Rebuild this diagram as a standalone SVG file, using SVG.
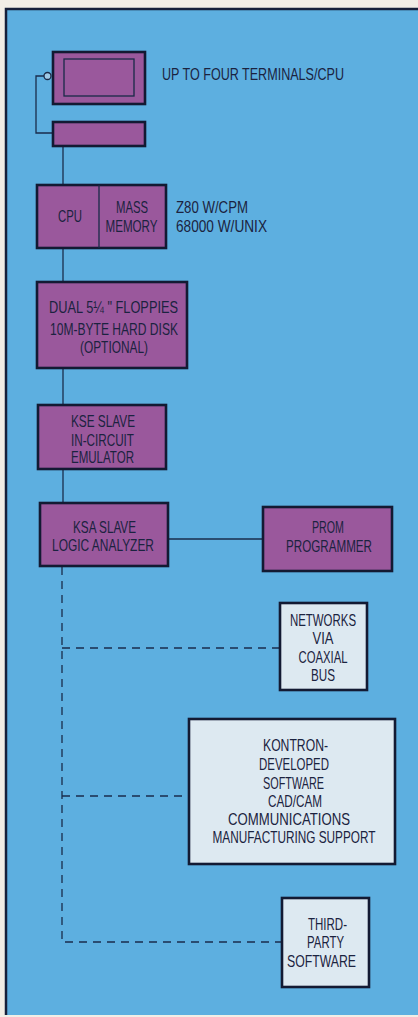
<svg xmlns="http://www.w3.org/2000/svg" width="418" height="1017" viewBox="0 0 418 1017">
  <style>
    .bg { fill: #5dafe0; }
    .frame { stroke: #15203a; stroke-width: 2.5; fill: none; }
    .box { fill: #9a589c; stroke: #131a33; stroke-width: 2.6; }
    .lite { fill: #dde9f1; stroke: #131a33; stroke-width: 2.6; }
    .thin { fill: none; stroke: #1a2a48; stroke-width: 1.3; }
    .wire { fill: none; stroke: #1a2d4c; stroke-width: 1.3; }
    .dash { fill: none; stroke: #1a2d4c; stroke-width: 1.3; stroke-dasharray: 8 6; }
    text { font-family: "Liberation Sans", Arial, sans-serif; font-size: 16.5px; fill: #1b2340; }
    .c { text-anchor: middle; }
  </style>

  <!-- page and framed panel -->
  <rect x="0" y="0" width="418" height="1017" fill="#f1eee6"/>
  <rect class="bg" x="6" y="9" width="412" height="1006"/>
  <path class="frame" d="M6 1015 V9 H418"/>

  <!-- connectors -->
  <g id="connectors">
    <path class="wire" d="M44 76 H36 V133 H53"/>
    <path class="wire" d="M63 146 V185"/>
    <path class="wire" d="M63 248 V282"/>
    <path class="wire" d="M63 368 V405"/>
    <path class="wire" d="M63 469 V503"/>
    <path class="wire" d="M168 539 H263"/>
    <path class="dash" d="M62 567 V942 H282"/>
    <path class="dash" d="M62 648 H280"/>
    <path class="dash" d="M62 796 H189"/>
  </g>

  <!-- terminal with screen -->
  <g id="terminal">
    <rect class="box" x="53" y="52" width="92" height="52"/>
    <rect class="thin" x="64" y="59" width="70" height="37"/>
    <circle cx="47.5" cy="76" r="3.5" fill="#9fc9e6" stroke="#1a2a48" stroke-width="1.3"/>
    <text x="162" y="80" textLength="182" lengthAdjust="spacingAndGlyphs">UP TO FOUR TERMINALS/CPU</text>
  </g>

  <!-- keyboard -->
  <g id="keyboard">
    <rect class="box" x="53" y="122" width="92" height="24"/>
  </g>

  <!-- CPU and mass memory -->
  <g id="cpu">
    <rect class="box" x="37" y="185" width="129" height="63"/>
    <path class="thin" d="M99 185 V248"/>
    <text class="c" x="70" y="222" textLength="24" lengthAdjust="spacingAndGlyphs">CPU</text>
    <text class="c" x="132" y="213" textLength="32" lengthAdjust="spacingAndGlyphs">MASS</text>
    <text class="c" x="131.5" y="232" textLength="52" lengthAdjust="spacingAndGlyphs">MEMORY</text>
    <text x="176" y="213" textLength="72" lengthAdjust="spacingAndGlyphs">Z80 W/CPM</text>
    <text x="176" y="232" textLength="91" lengthAdjust="spacingAndGlyphs">68000 W/UNIX</text>
  </g>

  <!-- disk storage -->
  <g id="disks">
    <rect class="box" x="37" y="282" width="150" height="86"/>
    <text class="c" x="113.5" y="313" textLength="129" lengthAdjust="spacingAndGlyphs">DUAL 5¼ " FLOPPIES</text>
    <text class="c" x="114" y="335" textLength="128" lengthAdjust="spacingAndGlyphs">10M-BYTE HARD DISK</text>
    <text class="c" x="114" y="353" textLength="68" lengthAdjust="spacingAndGlyphs">(OPTIONAL)</text>
  </g>

  <!-- KSE emulator -->
  <g id="kse">
    <rect class="box" x="38" y="405" width="128" height="64"/>
    <text class="c" x="103" y="427" textLength="64" lengthAdjust="spacingAndGlyphs">KSE SLAVE</text>
    <text class="c" x="102.5" y="446" textLength="63" lengthAdjust="spacingAndGlyphs">IN-CIRCUIT</text>
    <text class="c" x="102.5" y="463" textLength="63" lengthAdjust="spacingAndGlyphs">EMULATOR</text>
  </g>

  <!-- KSA logic analyzer -->
  <g id="ksa">
    <rect class="box" x="40" y="503" width="128" height="63"/>
    <text class="c" x="104.5" y="533" textLength="63" lengthAdjust="spacingAndGlyphs">KSA SLAVE</text>
    <text class="c" x="103" y="551" textLength="102" lengthAdjust="spacingAndGlyphs">LOGIC ANALYZER</text>
  </g>

  <!-- PROM programmer -->
  <g id="prom">
    <rect class="box" x="263" y="507" width="129" height="64"/>
    <text class="c" x="328" y="533" textLength="32" lengthAdjust="spacingAndGlyphs">PROM</text>
    <text class="c" x="329" y="552" textLength="86" lengthAdjust="spacingAndGlyphs">PROGRAMMER</text>
  </g>

  <!-- networks -->
  <g id="networks">
    <rect class="lite" x="280" y="603" width="87" height="87"/>
    <text class="c" x="323" y="626" textLength="66" lengthAdjust="spacingAndGlyphs">NETWORKS</text>
    <text class="c" x="323" y="644" textLength="21" lengthAdjust="spacingAndGlyphs">VIA</text>
    <text class="c" x="323" y="663" textLength="49" lengthAdjust="spacingAndGlyphs">COAXIAL</text>
    <text class="c" x="323" y="681" textLength="24" lengthAdjust="spacingAndGlyphs">BUS</text>
  </g>

  <!-- Kontron software -->
  <g id="kontron">
    <rect class="lite" x="189" y="719" width="206" height="145"/>
    <text class="c" x="295.5" y="751" textLength="65" lengthAdjust="spacingAndGlyphs">KONTRON-</text>
    <text class="c" x="294" y="770" textLength="70" lengthAdjust="spacingAndGlyphs">DEVELOPED</text>
    <text class="c" x="293.5" y="789" textLength="61" lengthAdjust="spacingAndGlyphs">SOFTWARE</text>
    <text class="c" x="295" y="807" textLength="54" lengthAdjust="spacingAndGlyphs">CAD/CAM</text>
    <text class="c" x="289" y="825" textLength="122" lengthAdjust="spacingAndGlyphs">COMMUNICATIONS</text>
    <!-- long line condensed with a horizontal scale so its box stays inside the frame -->
    <text class="c" transform="translate(294 843) scale(0.716 1)">MANUFACTURING SUPPORT</text>
  </g>

  <!-- third-party software -->
  <g id="thirdparty">
    <rect class="lite" x="282" y="898" width="87" height="89"/>
    <text class="c" x="327.5" y="930" textLength="39" lengthAdjust="spacingAndGlyphs">THIRD-</text>
    <text class="c" x="325.5" y="948" textLength="37" lengthAdjust="spacingAndGlyphs">PARTY</text>
    <text class="c" x="321.5" y="967" textLength="69" lengthAdjust="spacingAndGlyphs">SOFTWARE</text>
  </g>
</svg>
